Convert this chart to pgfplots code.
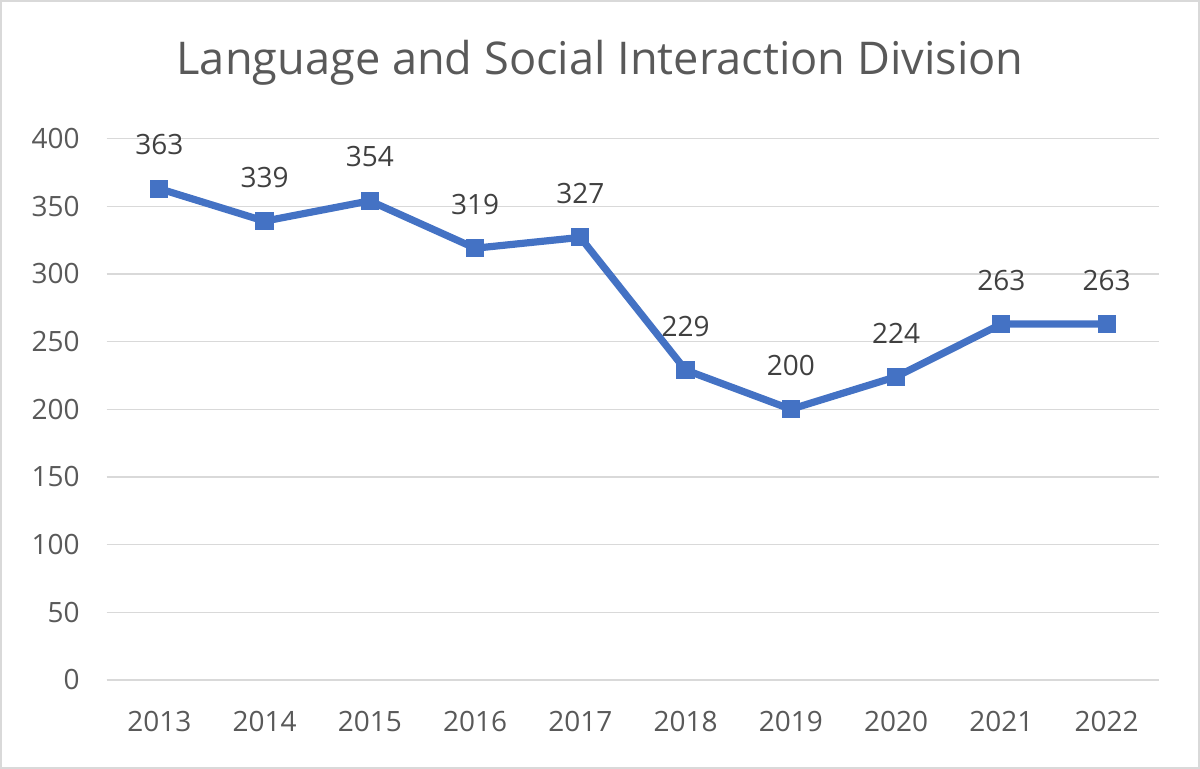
\documentclass[border=0pt]{standalone}
\usepackage{pgfplots}
\pgfplotsset{compat=1.18}
\usepackage{fontspec}
\setmainfont{Open Sans}
\definecolor{linecol}{HTML}{4472C4}
\definecolor{tickcol}{HTML}{595959}
\definecolor{labcol}{HTML}{404040}
\definecolor{gridcol}{HTML}{D9D9D9}
\begin{document}
\begin{tikzpicture}
\path[use as bounding box, draw=gridcol, line width=0.8pt] (0,0) rectangle (600pt,384pt);
\begin{axis}[
  at={(53pt,44pt)}, anchor=south west,
  scale only axis, width=527pt, height=271pt,
  xmin=-0.5, xmax=9.5, ymin=0, ymax=400,
  xtick={0,...,9},
  xticklabels={2013,2014,2015,2016,2017,2018,2019,2020,2021,2022},
  ytick={0,50,...,400},
  ymajorgrids, grid style={gridcol, line width=0.7pt},
  axis x line*=bottom, axis y line*=left,
  x axis line style={gridcol, line width=0.7pt, -},
  y axis line style={draw=none},
  major tick length=0pt,
  tick label style={font=\fontsize{14}{16}\selectfont, text=tickcol},
  /pgf/number format/assume math mode=true,
  yticklabel style={xshift=-10pt},
  xticklabel style={yshift=-12pt},
  clip=false,
  nodes near coords,
  every node near coord/.append style={font=\fontsize{14}{16}\selectfont, text=labcol, yshift=13.5pt},
]
\addplot[linecol, line width=3.6pt, mark=square*, mark size=4.3pt, mark options={fill=linecol, draw=linecol, line width=0pt}]
 coordinates {(0,363) (1,339) (2,354) (3,319) (4,327) (5,229) (6,200) (7,224) (8,263) (9,263)};
\end{axis}
\node[text=tickcol, font=\fontsize{22.6}{28}\selectfont] at (300pt,353pt) {Language and Social Interaction Division};
\end{tikzpicture}
\end{document}
